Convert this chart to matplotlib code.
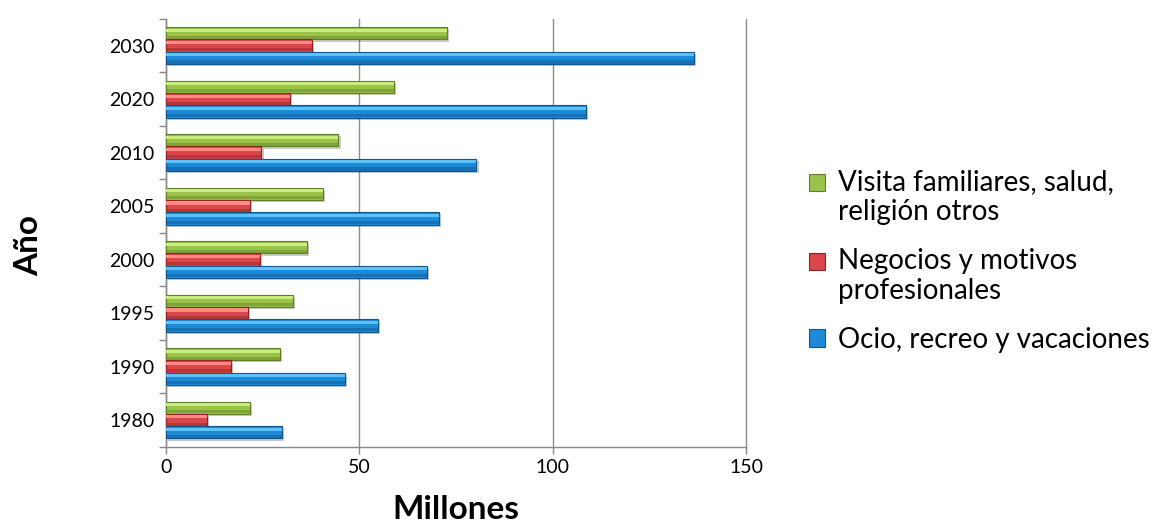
import matplotlib
matplotlib.use("Agg")
import matplotlib.pyplot as plt
import matplotlib.patheffects as pe
from matplotlib.patches import Patch, Rectangle
import numpy as np

plt.rcParams['font.family'] = ['Lato', 'DejaVu Sans']

years = ['1980', '1990', '1995', '2000', '2005', '2010', '2020', '2030']
ocio = [30.0, 46.4, 54.8, 67.5, 70.7, 80.3, 108.5, 136.5]
negocios = [10.5, 16.8, 21.2, 24.4, 21.8, 24.7, 32.1, 37.8]
visitas = [21.8, 29.4, 32.8, 36.4, 40.6, 44.6, 58.9, 72.7]

labels = ['Visita familiares, salud,\nreligión otros',
          'Negocios y motivos\nprofesionales',
          'Ocio, recreo y vacaciones']

# (mid, light, dark) per series
greens = ('#9BC34A', '#C9EC7E', '#5E7F26')
reds = ('#D9474A', '#FF8A84', '#8E2224')
blues = ('#1D8AD8', '#5EC2F8', '#12548C')


class TopHandler:
    """legend square lifted so it sits next to the first line of the label"""

    def __init__(self, shift):
        self.shift = shift

    def legend_artist(self, legend, orig_handle, fontsize, handlebox):
        x0, y0 = handlebox.xdescent, handlebox.ydescent
        p = Rectangle((-x0, -y0 + self.shift), handlebox.width, handlebox.height,
                      facecolor=orig_handle.get_facecolor(),
                      edgecolor=orig_handle.get_edgecolor(),
                      linewidth=0.8, transform=handlebox.get_transform())
        handlebox.add_artist(p)
        return p


fig = plt.figure(figsize=(11.73, 5.25), dpi=100)
ax = fig.add_axes([0.1415, 0.149, 0.4945, 0.815])

y = np.arange(len(years))
h = 0.23
shadow = [pe.SimplePatchShadow(offset=(1.5, -1.5), alpha=0.25), pe.Normal()]

for vals, off, (mid, light, dark) in ((visitas, h, greens),
                                      (negocios, 0, reds),
                                      (ocio, -h, blues)):
    ax.barh(y + off, vals, height=h, color=mid, edgecolor=dark,
            linewidth=0.8, path_effects=shadow, zorder=3)
    # light highlight on upper part and darker band on lower part
    ax.barh(y + off + h * 0.25, vals, height=h * 0.25, color=light,
            linewidth=0, zorder=4)
    ax.barh(y + off - h * 0.33, vals, height=h * 0.25, color=dark,
            linewidth=0, alpha=0.45, zorder=4)

ax.set_xlim(0, 150)
ax.set_ylim(-0.5, len(years) - 0.5)

ax.set_xticks([0, 50, 100, 150])
ax.tick_params(axis='x', direction='out', length=5, width=1, color='#888888',
               labelsize=14, pad=4)
ax.grid(axis='x', color='#8c8c8c', linewidth=1, zorder=0)
for line in ax.get_xgridlines():
    line.set_clip_on(False)

ax.set_yticks(np.arange(-0.5, len(years)), minor=False)
ax.set_yticklabels([])
ax.set_yticks(y, minor=True)
ax.set_yticklabels(years, minor=True, fontsize=14)
ax.tick_params(axis='y', which='major', direction='out', length=5, width=1,
               color='#888888')
ax.tick_params(axis='y', which='minor', length=0, pad=8)

for side in ('top', 'right'):
    ax.spines[side].set_visible(False)
for side in ('left', 'bottom'):
    ax.spines[side].set_color('#888888')
    ax.spines[side].set_linewidth(1)

ax.set_xlabel('Millones', fontsize=24, fontweight='bold')
ax.xaxis.set_label_coords(0.5, -0.112)
ax.set_ylabel('Año', fontsize=24, fontweight='bold')
ax.yaxis.set_label_coords(-0.212, 0.47)

handles = [Patch(facecolor=greens[0], edgecolor=greens[2]),
           Patch(facecolor=reds[0], edgecolor=reds[2]),
           Patch(facecolor=blues[0], edgecolor=blues[2])]
fig.legend(handles, labels, loc='center left', bbox_to_anchor=(0.668, 0.503),
           frameon=False, fontsize=20, handlelength=0.6, handleheight=0.6,
           handletextpad=0.45, labelspacing=0.82,
           handler_map={handles[0]: TopHandler(11), handles[1]: TopHandler(11),
                        handles[2]: TopHandler(0)})

fig.savefig('out.png', dpi=100)
